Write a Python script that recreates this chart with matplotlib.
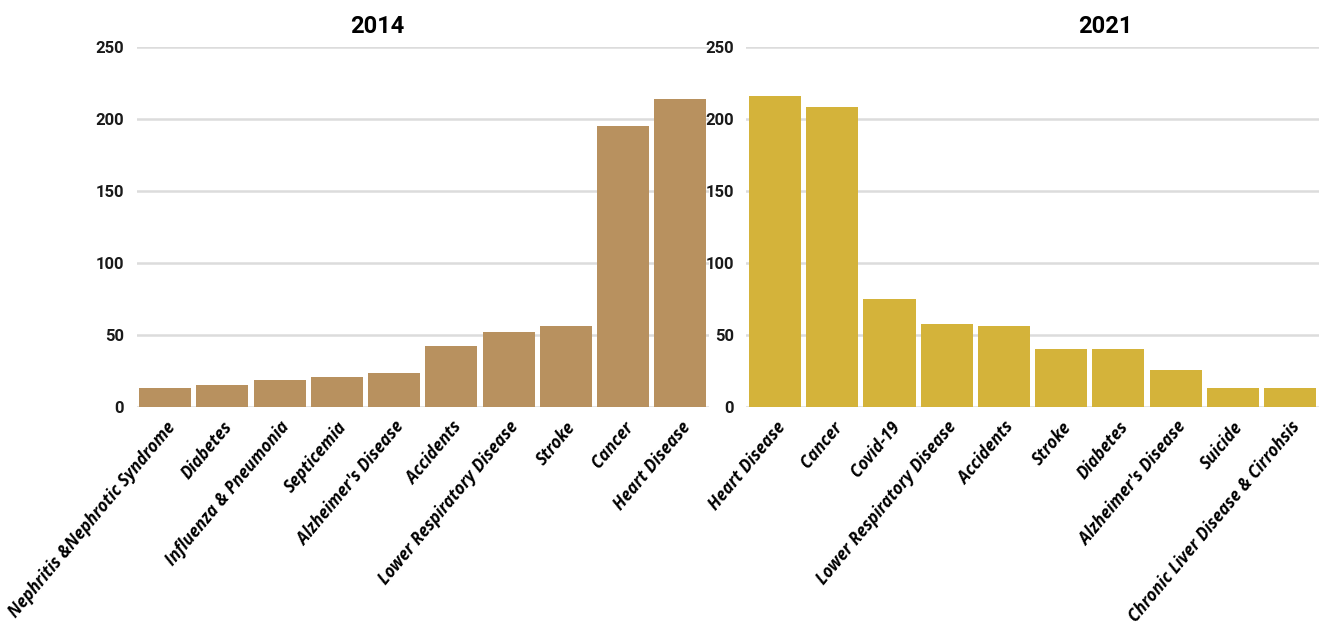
import numpy as np
import matplotlib
matplotlib.use("Agg")
import matplotlib.pyplot as plt

causes_2014 = ["Nephritis &Nephrotic Syndrome", "Diabetes", "Influenza & Pneumonia",
               "Septicemia", "Alzheimer's Disease", "Accidents",
               "Lower Respiratory Disease", "Stroke", "Cancer", "Heart Disease"]
values_2014 = [13, 15, 19, 21, 23.5, 42.5, 52, 56, 195.5, 214]

causes_2021 = ["Heart Disease", "Cancer", "Covid-19", "Lower Respiratory Disease",
               "Accidents", "Stroke", "Diabetes", "Alzheimer's Disease", "Suicide",
               "Chronic Liver Disease & Cirrohsis"]
values_2021 = [216, 208.5, 75, 57.5, 56.5, 40, 40, 25.5, 13.5, 13]

yticks = [0, 50, 100, 150, 200, 250]

narrow = ["Roboto", "DejaVu Sans"]

fig = plt.figure(figsize=(13.2, 6.3), dpi=100)

panels = [
    ("2014", causes_2014, values_2014, "#B8915F", [0.1035, 0.354, 0.4335, 0.571], 0.286),
    ("2021", causes_2021, values_2021, "#D4B33A", [0.5655, 0.354, 0.4335, 0.571], 0.837),
]

for title, cats, vals, color, rect, tx in panels:
    ax = fig.add_axes(rect)
    x = np.arange(len(cats))
    ax.bar(x, vals, width=0.91, color=color, zorder=3)
    ax.set_xlim(-0.5, len(cats) - 0.5)
    ax.set_ylim(0, 250)
    ax.set_yticks(yticks)
    ax.set_yticklabels([str(t) for t in yticks], family=narrow, fontsize=12,
                       fontweight="bold", color="#1a1a1a")
    ax.yaxis.grid(True, color="#DCDCDC", linewidth=1.8, zorder=0)
    for sp in ax.spines.values():
        sp.set_visible(False)
    ax.tick_params(axis="y", length=0, pad=9)
    ax.tick_params(axis="x", length=0, pad=8)
    ax.set_xticks(x)
    ax.set_xticklabels(cats, rotation=50, ha="right", rotation_mode="anchor",
                       family=["Open Sans", "DejaVu Sans"], fontsize=12,
                       fontweight="bold", style="italic")
    fig.text(tx, 0.958, title, ha="center", va="center", family=narrow,
             fontsize=17, fontweight="bold")

fig.savefig("out.png", dpi=100)
